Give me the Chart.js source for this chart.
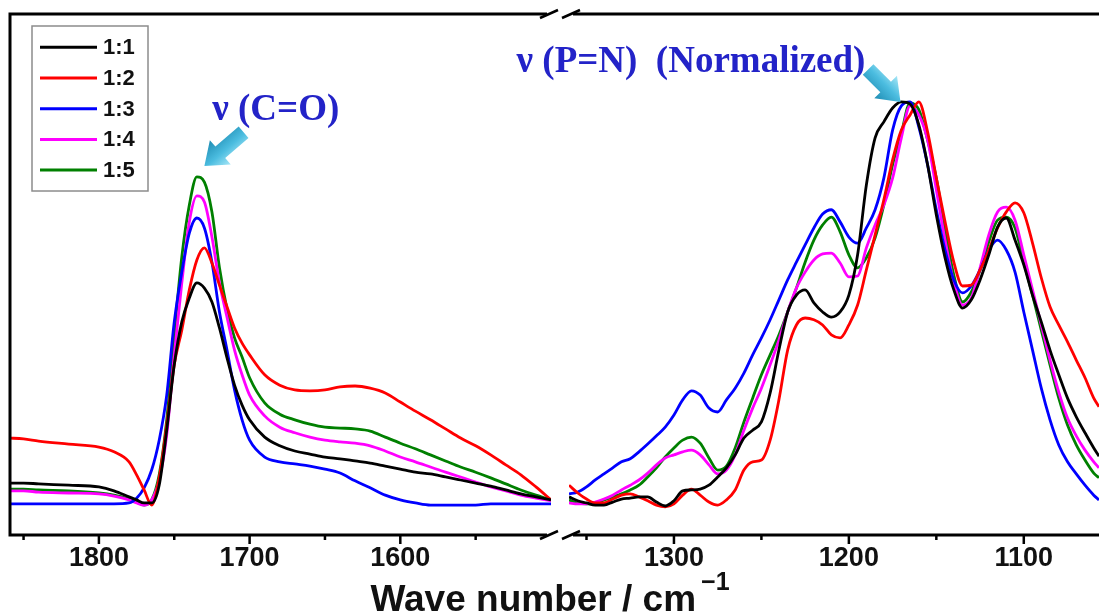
<!DOCTYPE html>
<html>
<head>
<meta charset="utf-8">
<title>FTIR spectra, broken wavenumber axis</title>
<script src="https://cdn.jsdelivr.net/npm/chart.js@4.4.1/dist/chart.umd.min.js"></script>
<style>
  html, body { margin: 0; padding: 0; background: #ffffff; }
  #stage { position: relative; width: 1099px; height: 615px; overflow: hidden; }
  #stage canvas { position: absolute; left: 0; top: 0; }
</style>
</head>
<body>
<div id="stage">
  <canvas id="panelLeft" width="1099" height="615"></canvas>
  <canvas id="panelRight" width="1099" height="615"></canvas>
</div>
<script>
// ---- wavenumber grids (cm^-1) for the two segments of the broken axis ----
const leftWavenumbers = [1860,1850,1840,1820,1800,1790,1780,1775,1770,1765,1760,1755,1750,1745,1740,1735,1730,1725,1720,1715,1710,1705,1700,1690,1680,1670,1660,1650,1640,1630,1620,1610,1600,1590,1580,1570,1560,1550,1540,1530,1520,1510,1500];
const rightWavenumbers = [1360,1355,1350,1345,1340,1335,1330,1325,1320,1315,1310,1305,1300,1295,1290,1285,1280,1275,1270,1265,1260,1255,1250,1245,1240,1235,1230,1225,1220,1215,1210,1205,1200,1195,1190,1185,1180,1175,1170,1165,1160,1155,1150,1145,1140,1135,1130,1125,1120,1115,1110,1105,1100,1095,1090,1085,1080,1075,1070,1065,1060,1057];

// ---- series names and colours ----
const seriesNames = ['1:1', '1:2', '1:3', '1:4', '1:5'];
const seriesColors = ['#000000', '#ff0000', '#0000ff', '#ff00ff', '#008000'];

// ---- C=O region (1860-1500 cm^-1), normalised absorbance ----
const ratio11Left = [0.120,0.120,0.118,0.115,0.111,0.102,0.088,0.081,0.074,0.074,0.115,0.242,0.393,0.492,0.547,0.582,0.570,0.538,0.478,0.409,0.346,0.300,0.266,0.226,0.206,0.194,0.187,0.180,0.176,0.171,0.166,0.159,0.152,0.145,0.141,0.134,0.127,0.120,0.113,0.104,0.095,0.088,0.081];
const ratio12Left = [0.224,0.222,0.217,0.210,0.203,0.192,0.169,0.139,0.104,0.069,0.132,0.254,0.393,0.473,0.566,0.635,0.663,0.628,0.577,0.527,0.478,0.443,0.416,0.370,0.346,0.335,0.333,0.335,0.342,0.344,0.339,0.328,0.307,0.286,0.266,0.245,0.224,0.206,0.185,0.162,0.139,0.111,0.081];
const ratio13Left = [0.072,0.072,0.072,0.072,0.072,0.072,0.074,0.085,0.109,0.150,0.219,0.323,0.492,0.607,0.697,0.732,0.709,0.630,0.515,0.427,0.335,0.266,0.219,0.180,0.169,0.164,0.159,0.152,0.143,0.125,0.109,0.092,0.081,0.074,0.069,0.069,0.069,0.069,0.072,0.072,0.072,0.072,0.072];
const ratio14Left = [0.102,0.102,0.099,0.097,0.095,0.090,0.081,0.074,0.069,0.081,0.127,0.231,0.416,0.582,0.723,0.783,0.769,0.688,0.582,0.503,0.427,0.370,0.323,0.275,0.249,0.236,0.226,0.219,0.215,0.212,0.206,0.194,0.180,0.169,0.157,0.145,0.134,0.122,0.111,0.102,0.092,0.085,0.079];
const ratio15Left = [0.106,0.106,0.104,0.102,0.097,0.092,0.083,0.076,0.069,0.081,0.139,0.266,0.462,0.642,0.762,0.827,0.815,0.746,0.617,0.522,0.455,0.411,0.363,0.305,0.279,0.266,0.256,0.249,0.247,0.245,0.240,0.226,0.212,0.199,0.185,0.171,0.157,0.145,0.132,0.118,0.104,0.092,0.081];

// ---- P=N region (1360-1057 cm^-1), normalised to the strongest band ----
const ratio11Right = [0.088,0.079,0.074,0.069,0.069,0.076,0.083,0.085,0.088,0.088,0.076,0.067,0.079,0.102,0.104,0.106,0.115,0.134,0.155,0.185,0.224,0.242,0.261,0.328,0.427,0.515,0.554,0.566,0.536,0.515,0.503,0.515,0.554,0.647,0.808,0.917,0.954,0.986,1.000,0.995,0.947,0.855,0.739,0.640,0.566,0.524,0.543,0.589,0.647,0.711,0.732,0.681,0.624,0.554,0.492,0.427,0.370,0.316,0.273,0.236,0.201,0.182];
const ratio12Right = [0.115,0.097,0.083,0.074,0.074,0.083,0.092,0.095,0.088,0.079,0.069,0.065,0.072,0.092,0.106,0.092,0.076,0.069,0.081,0.104,0.150,0.169,0.173,0.219,0.312,0.427,0.485,0.501,0.497,0.485,0.462,0.455,0.485,0.531,0.612,0.693,0.774,0.866,0.935,0.970,1.000,0.931,0.824,0.723,0.630,0.575,0.577,0.612,0.658,0.709,0.746,0.767,0.744,0.674,0.594,0.527,0.485,0.446,0.404,0.363,0.316,0.296];
const ratio13Right = [0.095,0.099,0.111,0.127,0.141,0.155,0.169,0.176,0.192,0.210,0.229,0.249,0.277,0.312,0.333,0.323,0.293,0.284,0.312,0.339,0.374,0.416,0.455,0.497,0.543,0.589,0.630,0.670,0.709,0.741,0.751,0.723,0.688,0.674,0.709,0.751,0.824,0.935,0.991,1.000,0.942,0.855,0.751,0.658,0.589,0.559,0.575,0.612,0.658,0.681,0.658,0.607,0.515,0.427,0.339,0.266,0.208,0.169,0.141,0.115,0.092,0.081];
const ratio14Right = [0.074,0.072,0.072,0.076,0.083,0.092,0.104,0.115,0.127,0.143,0.162,0.178,0.185,0.192,0.196,0.185,0.162,0.141,0.150,0.185,0.242,0.293,0.339,0.393,0.450,0.515,0.570,0.607,0.635,0.649,0.651,0.628,0.596,0.598,0.663,0.716,0.762,0.824,0.917,0.991,0.970,0.912,0.797,0.681,0.584,0.531,0.547,0.617,0.693,0.746,0.757,0.727,0.647,0.566,0.485,0.404,0.330,0.270,0.229,0.196,0.169,0.155];
const ratio15Right = [0.081,0.074,0.072,0.072,0.081,0.088,0.095,0.104,0.115,0.134,0.155,0.180,0.201,0.219,0.226,0.212,0.178,0.150,0.159,0.201,0.261,0.316,0.370,0.416,0.462,0.515,0.570,0.630,0.681,0.716,0.734,0.700,0.647,0.617,0.640,0.686,0.762,0.855,0.928,0.998,0.982,0.912,0.824,0.704,0.600,0.538,0.561,0.612,0.677,0.727,0.734,0.709,0.630,0.554,0.473,0.393,0.316,0.254,0.208,0.173,0.143,0.132];

// ---- axis ticks and ranges ----
const leftTicks = [1850, 1800, 1750, 1700, 1650, 1600, 1550];
const rightTicks = [1350, 1300, 1250, 1200, 1150, 1100];
const leftRange = [1500, 1859];
const rightRange = [1057, 1360];
const yRange = [0, 1.203];

// ---- texts ----
const axisTitle = 'Wave number / cm';
const axisTitleSup = '\u22121';
const carbonylLabel = '\u03BD (C=O)';
const phosphazeneLabel = '\u03BD (P=N)  (Normalized)';

const leftSeries = [ratio11Left, ratio12Left, ratio13Left, ratio14Left, ratio15Left];
const rightSeries = [ratio11Right, ratio12Right, ratio13Right, ratio14Right, ratio15Right];

function buildDatasets(wavenumbers, seriesList) {
  return seriesList.map((values, i) => ({
    label: seriesNames[i],
    data: wavenumbers.map((w, k) => ({ x: w, y: values[k] })),
    borderColor: seriesColors[i],
    backgroundColor: seriesColors[i],
    borderWidth: 2.8,
    pointRadius: 0,
    fill: false,
    cubicInterpolationMode: 'monotone'
  }));
}

const sansBold = '"Liberation Sans", Arial, Helvetica, sans-serif';
const serifBold = '"Liberation Serif", "Times New Roman", serif';

// frame, tick marks and the "//" break symbols of one axis segment
const framePlugin = {
  id: 'segmentFrame',
  afterDraw(chart, args, opts) {
    const { ctx, chartArea: a } = chart;
    const sx = chart.scales.x;
    const isLeft = opts.side === 'left';
    ctx.save();
    ctx.strokeStyle = '#000';
    ctx.lineWidth = 3;
    ctx.lineCap = 'butt';
    const x0 = isLeft ? a.left - 1.5 : a.left + 4;
    const x1 = isLeft ? a.right - 4 : a.right + 2;
    ctx.beginPath();
    ctx.moveTo(x0, a.top); ctx.lineTo(x1, a.top);
    ctx.moveTo(x0, a.bottom); ctx.lineTo(x1, a.bottom);
    if (isLeft) { ctx.moveTo(a.left, a.top - 1.5); ctx.lineTo(a.left, a.bottom + 1.5); }
    ctx.stroke();

    ctx.lineWidth = 2.5;
    sx.ticks.forEach(t => {
      const px = sx.getPixelForValue(t.value);
      const len = t.value % 100 === 0 ? 9 : 5;
      ctx.beginPath();
      ctx.moveTo(px, a.bottom);
      ctx.lineTo(px, a.bottom + len);
      ctx.stroke();
    });

    const bx = isLeft ? a.right - 2 : a.left + 2;
    [a.top, a.bottom].forEach(y => {
      ctx.beginPath();
      ctx.moveTo(bx - 9, y + 4);
      ctx.lineTo(bx + 9, y - 4);
      ctx.stroke();
    });
    ctx.restore();
  }
};

// boxed legend inside the plot area
const legendBoxPlugin = {
  id: 'legendBox',
  afterDraw(chart, args, o) {
    if (!o.show) return;
    const ctx = chart.ctx;
    ctx.save();
    ctx.fillStyle = '#ffffff';
    ctx.fillRect(o.x, o.y, o.w, o.h);
    ctx.strokeStyle = '#8c8c8c';
    ctx.lineWidth = 1.5;
    ctx.strokeRect(o.x, o.y, o.w, o.h);
    ctx.font = 'bold 22px ' + sansBold;
    ctx.textBaseline = 'middle';
    chart.data.datasets.forEach((d, i) => {
      const y = o.y + o.first + i * o.step;
      ctx.strokeStyle = d.borderColor;
      ctx.lineWidth = 3;
      ctx.beginPath();
      ctx.moveTo(o.x + 8, y);
      ctx.lineTo(o.x + 65, y);
      ctx.stroke();
      ctx.fillStyle = '#111';
      ctx.fillText(d.label, o.x + 71, y + 1);
    });
    ctx.restore();
  }
};

function blockArrow(ctx, tx, ty, hx, hy) {
  const dx = hx - tx, dy = hy - ty;
  const L = Math.hypot(dx, dy);
  const shaftW = 15, headW = 32, headL = 21;
  ctx.save();
  ctx.translate(tx, ty);
  ctx.rotate(Math.atan2(dy, dx));
  const g = ctx.createLinearGradient(0, -headW / 2, 0, headW / 2);
  g.addColorStop(0, '#a6e6f6');
  g.addColorStop(0.45, '#4cbde0');
  g.addColorStop(1, '#1f8db4');
  ctx.beginPath();
  ctx.moveTo(0, -shaftW / 2);
  ctx.lineTo(L - headL, -shaftW / 2);
  ctx.lineTo(L - headL, -headW / 2);
  ctx.lineTo(L, 0);
  ctx.lineTo(L - headL, headW / 2);
  ctx.lineTo(L - headL, shaftW / 2);
  ctx.lineTo(0, shaftW / 2);
  ctx.closePath();
  ctx.fillStyle = g;
  ctx.fill();
  ctx.restore();
}

// band assignments with pointing arrows, anchored in data coordinates
const notesPlugin = {
  id: 'bandNotes',
  afterDraw(chart, args, o) {
    const ctx = chart.ctx, sx = chart.scales.x, sy = chart.scales.y;
    ctx.save();
    (o.arrows || []).forEach(a => {
      blockArrow(ctx, sx.getPixelForValue(a.from[0]), sy.getPixelForValue(a.from[1]),
                      sx.getPixelForValue(a.to[0]), sy.getPixelForValue(a.to[1]));
    });
    (o.labels || []).forEach(l => {
      ctx.font = 'bold 37px ' + serifBold;
      ctx.fillStyle = '#2323c8';
      ctx.textBaseline = 'alphabetic';
      ctx.textAlign = 'left';
      ctx.fillText(l.text, sx.getPixelForValue(l.at[0]), sy.getPixelForValue(l.at[1]));
    });
    ctx.restore();
  }
};

// shared x-axis title with superscript unit
const axisTitlePlugin = {
  id: 'axisTitle',
  afterDraw(chart, args, o) {
    if (!o.show) return;
    const ctx = chart.ctx;
    ctx.save();
    ctx.fillStyle = '#111';
    ctx.textBaseline = 'alphabetic';
    ctx.font = 'bold 37px ' + sansBold;
    const w1 = ctx.measureText(axisTitle).width;
    ctx.font = 'bold 25px ' + sansBold;
    const w2 = ctx.measureText(axisTitleSup).width;
    const start = o.centerX - (w1 + 5 + w2) / 2;
    ctx.font = 'bold 37px ' + sansBold;
    ctx.fillText(axisTitle, start, o.baseline);
    ctx.font = 'bold 25px ' + sansBold;
    ctx.fillText(axisTitleSup, start + w1 + 5, o.baseline - 21);
    ctx.restore();
  }
};

function segmentOptions(side, range, ticks, pluginOpts) {
  const isLeft = side === 'left';
  return {
    responsive: false,
    animation: false,
    devicePixelRatio: 1,
    layout: {
      padding: isLeft ? { left: 10, right: 1099 - 551, top: 14, bottom: 0 }
                      : { left: 569, right: 0, top: 14, bottom: 0 }
    },
    plugins: Object.assign({
      legend: { display: false },
      tooltip: { enabled: false },
      segmentFrame: { side: side }
    }, pluginOpts),
    scales: {
      x: {
        type: 'linear',
        reverse: true,
        min: range[0],
        max: range[1],
        afterBuildTicks: s => { s.ticks = ticks.map(v => ({ value: v })); },
        afterFit: s => { s.height = 80; },
        grid: { display: false, drawTicks: false },
        border: { display: false },
        ticks: {
          autoSkip: false,
          maxRotation: 0,
          padding: 7,
          color: '#111',
          font: { family: sansBold, size: 27, weight: 'bold', lineHeight: 1.2 },
          callback: v => (v % 100 === 0 ? String(v) : '')
        }
      },
      y: { display: false, min: yRange[0], max: yRange[1] }
    }
  };
}

const plugins = [framePlugin, legendBoxPlugin, notesPlugin, axisTitlePlugin];

new Chart(document.getElementById('panelLeft'), {
  type: 'line',
  data: { datasets: buildDatasets(leftWavenumbers, leftSeries) },
  options: segmentOptions('left', leftRange, leftTicks, {
    legendBox: { show: true, x: 32, y: 26, w: 116, h: 165, first: 21.3, step: 30.7 },
    bandNotes: {
      arrows: [{ from: [1704, 0.93], to: [1730, 0.852] }],
      labels: [{ text: carbonylLabel, at: [1724.8, 0.958] }]
    },
    axisTitle: { show: false }
  }),
  plugins: plugins
});

new Chart(document.getElementById('panelRight'), {
  type: 'line',
  data: { datasets: buildDatasets(rightWavenumbers, rightSeries) },
  options: segmentOptions('right', rightRange, rightTicks, {
    legendBox: { show: false },
    bandNotes: {
      arrows: [{ from: [1189, 1.075], to: [1170.5, 1.0] }],
      labels: [{ text: phosphazeneLabel, at: [1390, 1.069] }]
    },
    axisTitle: { show: true, centerX: 550, baseline: 611 }
  }),
  plugins: plugins
});
</script>
</body>
</html>
